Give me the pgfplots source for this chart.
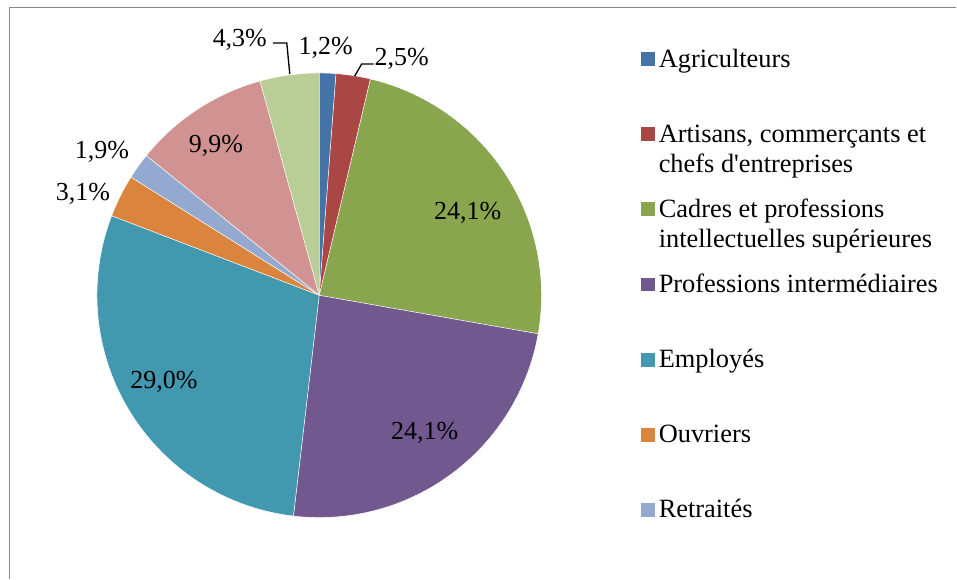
\documentclass[border=0pt]{standalone}
\usepackage{pgfplots}
\pgfplotsset{compat=1.18}
\usepackage{fontspec}
\setmainfont{Liberation Serif}
\definecolor{cAgri}{HTML}{4572A7}
\definecolor{cArti}{HTML}{AA4643}
\definecolor{cCadr}{HTML}{89A54E}
\definecolor{cProf}{HTML}{71588F}
\definecolor{cEmpl}{HTML}{4198AF}
\definecolor{cOuvr}{HTML}{DB843D}
\definecolor{cRetr}{HTML}{93A9CF}
\definecolor{cAutr}{HTML}{D19392}
\definecolor{cSans}{HTML}{B9CD96}
\definecolor{frame}{HTML}{868686}
\newcommand{\lbl}{\fontsize{19.5pt}{22.5pt}\selectfont}
\newcommand{\leg}{\fontsize{19.8pt}{22.8pt}\selectfont}
% #1 cumulative start (%), #2 cumulative end (%), #3 colour, #4 extra options
\newcommand{\slice}[4]{%
  \pgfmathsetmacro{\aA}{90-3.6*#1/1.001}%
  \pgfmathsetmacro{\dA}{-3.6*(#2-#1)/1.001/60}%
  \addplot[fill=#3, draw=white, line width=0.4pt, variable=\t,
    samples at={-1,0,1,...,60}, #4]
    ({319.5+(\t<0 ? 0 : 222.5)*cos((\aA)+(\dA)*\t)},
     {283.5+(\t<0 ? 0 : 222.5)*sin((\aA)+(\dA)*\t)});
}
\newcommand{\entry}[1]{\parbox[t]{210pt}{\leg\strut #1}}
\begin{document}
\begin{tikzpicture}
\begin{axis}[
  scale only axis, width=717.75pt, height=434.25pt,
  xmin=0, xmax=957, ymin=0, ymax=579,
  hide axis, clip=false,
  legend cell align=left,
  legend image code/.code={\fill[#1, draw=none] (0pt,-6.5pt) rectangle (10.5pt,4pt);},
  legend style={draw=none, fill=none, at={(axis cs:641,533.3)}, anchor=north west,
    inner sep=0pt, row sep=38.9pt, column sep=3pt, nodes={inner sep=0pt}},
]
\path (axis cs:0,0) rectangle (axis cs:957,579);
% values: 1.2, 2.5, 24.1, 24.1, 29.0, 3.1, 1.9, 9.9, 4.3
\slice{0}{1.2}{cAgri}{}
\addlegendentry{\entry{Agriculteurs}}
\slice{1.2}{3.7}{cArti}{}
\addlegendentry{\entry{Artisans, commerçants et\newline chefs d\textquotesingle entreprises}}
\slice{3.7}{27.8}{cCadr}{}
\addlegendentry{\entry{Cadres et professions\newline intellectuelles supérieures}}
\slice{27.8}{51.9}{cProf}{}
\addlegendentry{\entry{Professions intermédiaires}}
\slice{51.9}{80.9}{cEmpl}{}
\addlegendentry{\entry{Employés}}
\slice{80.9}{84.0}{cOuvr}{}
\addlegendentry{\entry{Ouvriers}}
\slice{84.0}{85.9}{cRetr}{}
\addlegendentry{\entry{Retraités}}
\slice{85.9}{95.8}{cAutr}{forget plot}
\slice{95.8}{100.1}{cSans}{forget plot}
% frame
\draw[frame, line width=1.1pt] (axis cs:9.3,0) -- (axis cs:9.3,571.3) -- (axis cs:957,571.3);
% leader lines
\draw[black, line width=1pt] (axis cs:273,536) -- (axis cs:287,536) -- (axis cs:290,505);
\draw[black, line width=1pt] (axis cs:374,515) -- (axis cs:362,515) -- (axis cs:355,503);
% data labels
\node[font=\lbl, inner sep=0pt] at (axis cs:326,531) {1,2\%};
\node[font=\lbl, inner sep=0pt] at (axis cs:402,520) {2,5\%};
\node[font=\lbl, inner sep=0pt] at (axis cs:240,539) {4,3\%};
\node[font=\lbl, inner sep=0pt] at (axis cs:468,366) {24,1\%};
\node[font=\lbl, inner sep=0pt] at (axis cs:425,146) {24,1\%};
\node[font=\lbl, inner sep=0pt] at (axis cs:164,197) {29,0\%};
\node[font=\lbl, inner sep=0pt] at (axis cs:83,385) {3,1\%};
\node[font=\lbl, inner sep=0pt] at (axis cs:102,427) {1,9\%};
\node[font=\lbl, inner sep=0pt] at (axis cs:216,433) {9,9\%};
\end{axis}
\end{tikzpicture}
\end{document}
